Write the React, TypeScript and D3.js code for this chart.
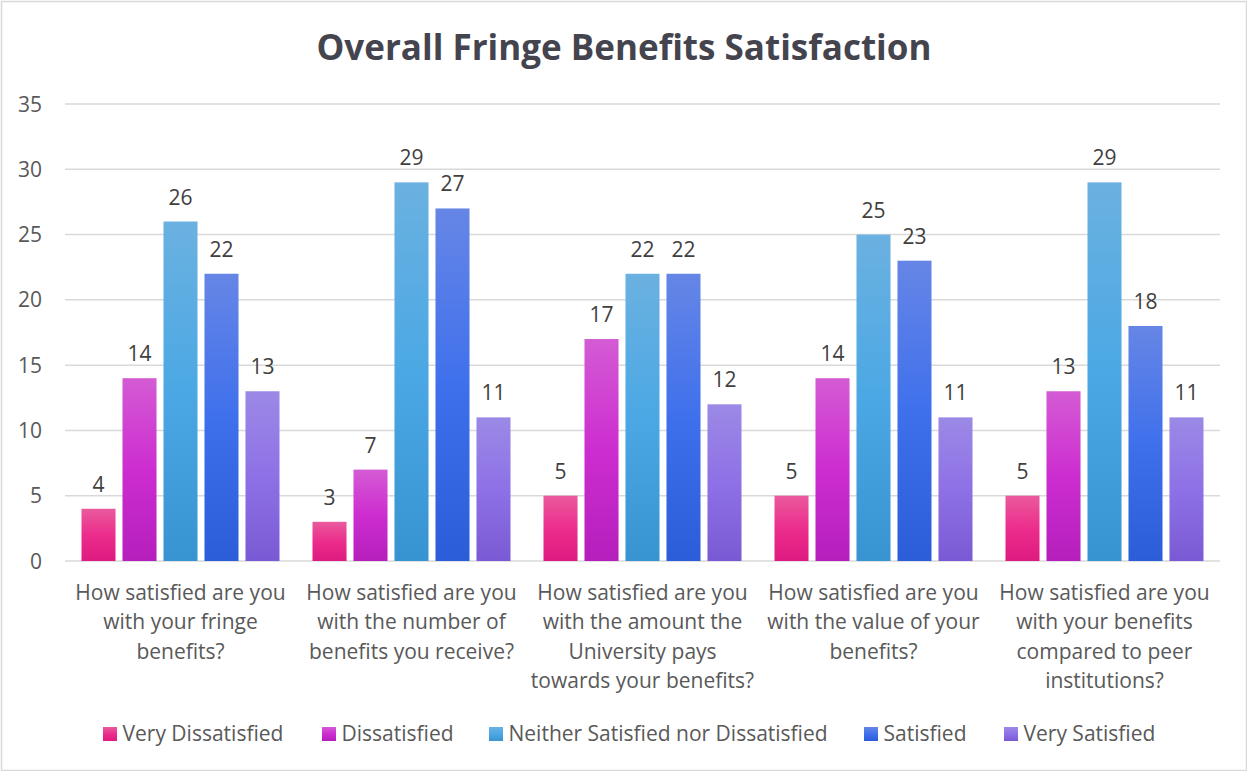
import React from "react";
import * as d3 from "d3";

const categories = [
  "How satisfied are you\nwith your fringe\nbenefits?",
  "How satisfied are you\nwith the number of\nbenefits you receive?",
  "How satisfied are you\nwith the amount the\nUniversity pays\ntowards your benefits?",
  "How satisfied are you\nwith the value of your\nbenefits?",
  "How satisfied are you\nwith your benefits\ncompared to peer\ninstitutions?",
];
const seriesNames = [
  "Very Dissatisfied",
  "Dissatisfied",
  "Neither Satisfied nor Dissatisfied",
  "Satisfied",
  "Very Satisfied",
];
const veryDissatisfied = [4, 3, 5, 5, 5];
const dissatisfied = [14, 7, 17, 14, 13];
const neither = [26, 29, 22, 25, 29];
const satisfied = [22, 27, 22, 23, 18];
const verySatisfied = [13, 11, 12, 11, 11];
const seriesValues = [veryDissatisfied, dissatisfied, neither, satisfied, verySatisfied];
const yTicks = [0, 5, 10, 15, 20, 25, 30, 35];
const title = "Overall Fringe Benefits Satisfaction";

const gradients = [
  ["#ea5a9e", "#ec2d8c", "#de1a80"],
  ["#d45bd4", "#cd2dd0", "#b51fbc"],
  ["#6bb1e1", "#4ba8e4", "#3794d0"],
  ["#6686e6", "#3f70ec", "#2c5dd8"],
  ["#9c89e6", "#8e71e6", "#7a5ad4"],
];

const W = 1247;
const H = 771;
const FONT = "'Open Sans', sans-serif";

export default function App() {
  const left = 65, right = 1220, top = 104, bottom = 561;
  const x0 = d3.scaleBand<string>().domain(categories).range([left, right]).padding(0);
  const bw = x0.bandwidth();
  const x1 = d3
    .scaleBand<number>()
    .domain(d3.range(seriesNames.length))
    .range([16.5, bw - 16.5])
    .paddingInner(0.17)
    .paddingOuter(0);
  const y = d3.scaleLinear().domain([0, 35]).range([bottom, top]);

  const legendX = [103, 322, 489, 864, 1004];

  return (
    <svg width={W} height={H} style={{ position: "absolute", left: 0, top: 0 }}>
      <defs>
        {gradients.map((g, i) => (
          <linearGradient key={i} id={`g${i}`} x1="0" y1="0" x2="0" y2="1">
            <stop offset="0" stopColor={g[0]} />
            <stop offset="0.5" stopColor={g[1]} />
            <stop offset="1" stopColor={g[2]} />
          </linearGradient>
        ))}
      </defs>
      <rect x={0} y={0} width={W} height={H} fill="#fff" />
      <rect x={1.5} y={1.5} width={W - 2} height={H - 2} fill="none" stroke="#d9d9d9" strokeWidth={1.5} />
      <text
        x={624}
        y={60}
        textAnchor="middle"
        fontFamily={FONT}
        fontWeight={700}
        fontSize={35}
        fill="#44444f"
      >
        {title}
      </text>
      {yTicks.map((t) => (
        <g key={t}>
          <line x1={left} x2={right} y1={y(t)} y2={y(t)} stroke="#d9d9d9" strokeWidth={1.5} />
          <text
            x={42}
            y={y(t) + 7.5}
            textAnchor="end"
            fontFamily={FONT}
            fontSize={21}
            fill="#595959"
          >
            {t}
          </text>
        </g>
      ))}
      {categories.map((c, ci) => (
        <g key={ci} transform={`translate(${x0(c)},0)`}>
          {seriesValues.map((vals, si) => {
            const v = vals[ci];
            const bx = x1(si)!;
            return (
              <g key={si}>
                <rect
                  x={bx}
                  y={y(v)}
                  width={x1.bandwidth()}
                  height={y(0) - y(v)}
                  fill={`url(#g${si})`}
                />
                <text
                  x={bx + x1.bandwidth() / 2}
                  y={y(v) - 17}
                  textAnchor="middle"
                  fontFamily={FONT}
                  fontSize={21}
                  fill="#404040"
                >
                  {v}
                </text>
              </g>
            );
          })}
          {c.split("\n").map((line, li) => (
            <text
              key={li}
              x={bw / 2}
              y={599.5 + li * 29.6}
              textAnchor="middle"
              fontFamily={FONT}
              fontSize={21}
              fill="#595959"
            >
              {line}
            </text>
          ))}
        </g>
      ))}
      {seriesNames.map((s, i) => (
        <g key={s}>
          <rect x={legendX[i]} y={727} width={14} height={14} fill={`url(#g${i})`} />
          <text x={legendX[i] + 19.5} y={740.5} fontFamily={FONT} fontSize={21} fill="#595959">
            {s}
          </text>
        </g>
      ))}
    </svg>
  );
}
